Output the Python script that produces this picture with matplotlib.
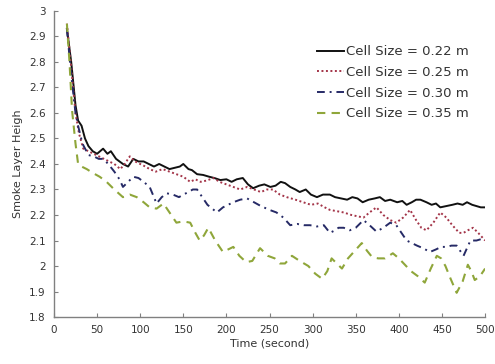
import matplotlib
matplotlib.use("Agg")
from matplotlib import pyplot as plt

# Smoke layer height vs time for four grid cell sizes
t_022 = [15, 20, 25, 28, 32, 36, 40, 45, 50, 57, 62, 66, 72, 80, 86, 92, 98, 104,
         110, 116, 122, 128, 134, 140, 146, 150, 156, 160, 166, 173, 180, 186, 193,
         200, 206, 212, 219, 225, 231, 238, 244, 251, 257, 263, 268, 274, 280, 285,
         292, 298, 305, 312, 320, 326, 333, 340, 346, 352, 358, 365, 372, 378, 384,
         390, 398, 404, 409, 415, 420, 425, 432, 438, 443, 448, 455, 462, 468, 474,
         479, 485, 490, 495, 500]
y_022 = [2.93, 2.80, 2.63, 2.57, 2.55, 2.50, 2.47, 2.45, 2.44, 2.46, 2.44, 2.45, 2.42,
         2.40, 2.39, 2.42, 2.41, 2.41, 2.40, 2.39, 2.40, 2.39, 2.38, 2.385, 2.39,
         2.40, 2.38, 2.376, 2.36, 2.357, 2.35, 2.345, 2.337, 2.34, 2.33, 2.34, 2.345,
         2.32, 2.305, 2.315, 2.32, 2.31, 2.315, 2.33, 2.325, 2.31, 2.30, 2.29, 2.30,
         2.28, 2.27, 2.28, 2.28, 2.27, 2.265, 2.26, 2.27, 2.265, 2.25, 2.26, 2.265,
         2.27, 2.255, 2.26, 2.25, 2.255, 2.24, 2.25, 2.26, 2.26, 2.25, 2.24, 2.245,
         2.23, 2.235, 2.24, 2.245, 2.24, 2.25, 2.24, 2.235, 2.23, 2.23]

t_025 = [15, 20, 25, 29, 34, 40, 46, 52, 58, 64, 70, 77, 82, 88, 94, 100, 106, 111,
         118, 126, 134, 142, 150, 158, 164, 170, 177, 185, 192, 200, 208, 216, 224,
         232, 240, 247, 254, 262, 270, 280, 289, 298, 306, 314, 320, 328, 336, 345,
         352, 359, 366, 374, 382, 390, 397, 405, 413, 420, 426, 432, 440, 448, 455,
         462, 470, 475, 480, 486, 492, 500]
y_025 = [2.95, 2.78, 2.60, 2.52, 2.46, 2.45, 2.44, 2.43, 2.42, 2.41, 2.40, 2.38, 2.40,
         2.43, 2.41, 2.40, 2.39, 2.38, 2.37, 2.38, 2.37, 2.36, 2.35, 2.33, 2.34, 2.33,
         2.335, 2.345, 2.33, 2.32, 2.31, 2.30, 2.31, 2.30, 2.29, 2.30, 2.30, 2.28,
         2.27, 2.26, 2.25, 2.24, 2.245, 2.23, 2.22, 2.215, 2.21, 2.20, 2.195, 2.19,
         2.21, 2.23, 2.20, 2.18, 2.17, 2.19, 2.22, 2.18, 2.15, 2.14, 2.17, 2.21, 2.19,
         2.16, 2.13, 2.13, 2.14, 2.15, 2.13, 2.10]

t_030 = [15, 20, 25, 28, 33, 40, 46, 52, 57, 63, 70, 76, 80, 86, 92, 98, 104, 111,
         119, 125, 131, 138, 145, 150, 156, 161, 166, 172, 178, 189, 196, 202, 208,
         216, 224, 232, 240, 250, 258, 266, 274, 282, 290, 297, 305, 313, 320, 326,
         330, 336, 343, 350, 359, 366, 374, 382, 390, 397, 403, 409, 415, 421, 428,
         436, 443, 449, 455, 461, 467, 475, 483, 490, 500]
y_030 = [2.93, 2.75, 2.60, 2.55, 2.48, 2.435, 2.43, 2.42, 2.42, 2.40, 2.37, 2.34, 2.31,
         2.33, 2.35, 2.345, 2.33, 2.31, 2.245, 2.27, 2.285, 2.28, 2.27, 2.28, 2.29,
         2.30, 2.30, 2.27, 2.24, 2.21, 2.23, 2.24, 2.25, 2.26, 2.265, 2.25, 2.235,
         2.22, 2.21, 2.19, 2.16, 2.165, 2.16, 2.16, 2.155, 2.16, 2.13, 2.14, 2.15,
         2.15, 2.14, 2.15, 2.18, 2.16, 2.135, 2.15, 2.17, 2.16, 2.13, 2.10, 2.09, 2.08,
         2.07, 2.055, 2.065, 2.075, 2.075, 2.08, 2.08, 2.04, 2.10, 2.10, 2.11]

t_035 = [15, 18, 21, 25, 28, 32, 38, 45, 53, 61, 70, 80, 88, 96, 104, 111, 119, 127,
         134, 142, 150, 158, 164, 169, 174, 179, 187, 196, 202, 208, 215, 223, 230,
         239, 248, 256, 262, 268, 276, 285, 295, 303, 311, 317, 322, 328, 334, 341,
         349, 357, 363, 369, 376, 384, 393, 400, 407, 414, 422, 430, 437, 444, 449,
         454, 460, 467, 474, 480, 484, 488, 494, 500]
y_035 = [2.95, 2.80, 2.61, 2.48, 2.40, 2.39, 2.38, 2.365, 2.35, 2.33, 2.30, 2.27, 2.28,
         2.27, 2.25, 2.23, 2.225, 2.245, 2.21, 2.17, 2.175, 2.17, 2.13, 2.10, 2.12,
         2.15, 2.10, 2.055, 2.065, 2.075, 2.04, 2.015, 2.02, 2.07, 2.04, 2.03, 2.01,
         2.01, 2.04, 2.02, 2.00, 1.97, 1.95, 1.98, 2.03, 2.01, 1.99, 2.03, 2.06, 2.09,
         2.06, 2.035, 2.03, 2.03, 2.05, 2.03, 2.005, 1.98, 1.96, 1.935, 1.99, 2.04,
         2.03, 2.00, 1.95, 1.895, 1.94, 2.005, 1.98, 1.945, 1.96, 1.99]

labels = ['Cell Size = 0.22 m', 'Cell Size = 0.25 m',
          'Cell Size = 0.30 m', 'Cell Size = 0.35 m']

fig = plt.figure(figsize=(4.95, 3.64), dpi=100)
ax = fig.add_axes([0.109, 0.129, 0.871, 0.841])

ax.plot(t_022, y_022, color='#111111', lw=1.4, label=labels[0])
ax.plot(t_025, y_025, color='#a33448', lw=1.4, ls=(0, (1, 1.3)), label=labels[1])
ax.plot(t_030, y_030, color='#262a66', lw=1.4, ls=(0, (4, 2.5, 1, 2.5)), label=labels[2])
ax.plot(t_035, y_035, color='#8fa63a', lw=1.5, ls=(0, (4, 3)), label=labels[3])

ax.set_xlim(0, 500)
ax.set_ylim(1.8, 3.0)
ax.set_xticks(range(0, 501, 50))
yt = [1.8 + 0.1 * i for i in range(13)]
ax.set_yticks(yt)
ax.set_yticklabels([f'{v:.1f}'.rstrip('0').rstrip('.') for v in yt])

for s in ['top', 'right']:
    ax.spines[s].set_visible(False)
for s in ['left', 'bottom']:
    ax.spines[s].set_color('#808080')
    ax.spines[s].set_linewidth(1.0)
ax.tick_params(direction='in', length=3, color='#808080', labelsize=7.5,
               labelcolor='#333333', pad=6)

ax.set_xlabel('Time (second)', fontsize=8, color='#333333', labelpad=2)
ax.set_ylabel('Smoke Layer Heigh', fontsize=8, color='#333333', labelpad=4)

leg = ax.legend(loc='upper right', bbox_to_anchor=(0.975, 0.905), frameon=False,
                fontsize=9.5, handlelength=2.0, handletextpad=0.2,
                labelspacing=0.58, borderaxespad=0)
for txt in leg.get_texts():
    txt.set_color('#333333')

fig.savefig('out.png', dpi=100)
